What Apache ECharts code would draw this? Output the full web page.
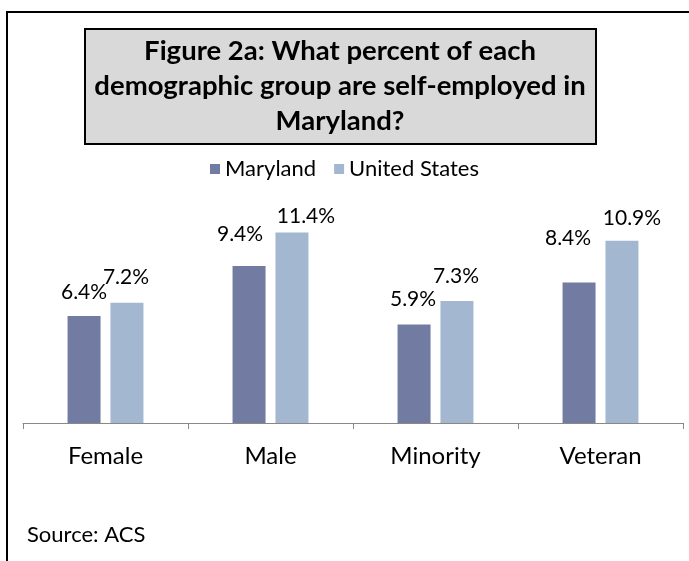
<!DOCTYPE html>
<html>
<head>
<meta charset="utf-8">
<script src="https://cdn.jsdelivr.net/npm/echarts@6/dist/echarts.min.js"></script>
<style>
  html, body { margin: 0; padding: 0; background: #fff; }
  #Mycharts { width: 689px; height: 561px; }
</style>
</head>
<body>
<div id="Mycharts"></div>
<script>
// categories and values
const categories = ['Female', 'Male', 'Minority', 'Veteran']
const maryland = [6.4, 9.4, 5.9, 8.4]
const unitedStates = [7.2, 11.4, 7.3, 10.9]
const seriesNames = ['Maryland', 'United States']
const titleLines = [
  'Figure 2a: What percent of each',
  'demographic group are self-employed in',
  'Maryland?'
]
const sourceText = 'Source: ACS'

// labels in the original were nudged by hand, so keep those shifts here
const mdLabelShift = [[0, -8], [-9, -16], [-1, -10], [-11, -29]]
const usLabelShift = [[-1, -10], [14, -1], [-1, -9], [10, -7]]

const FONT = 'Lato'

function withShift (values, shifts) {
  return values.map((v, i) => ({
    value: v,
    label: { offset: shifts[i] }
  }))
}

let Mycharts = echarts.init(document.getElementById('Mycharts'))
Mycharts.setOption({
  animation: false,
  color: ['#727CA3', '#A3B8D0'],
  textStyle: { fontFamily: FONT },
  legend: {
    data: seriesNames,
    top: 153,
    left: 'center',
    itemWidth: 10,
    itemHeight: 10,
    itemGap: 18,
    icon: 'rect',
    textStyle: { fontSize: 22, color: '#000', fontFamily: FONT }
  },
  grid: {
    left: 23,
    right: 6,
    top: 189,
    bottom: 138
  },
  xAxis: {
    type: 'category',
    data: categories,
    axisLine: { lineStyle: { color: '#888', width: 1 } },
    axisTick: { show: true, length: 6, lineStyle: { color: '#888' } },
    axisLabel: { fontSize: 24, color: '#000', margin: 21, fontFamily: FONT }
  },
  yAxis: {
    type: 'value',
    min: 0,
    max: 14,
    show: false,
    splitLine: { show: false }
  },
  series: [
    {
      name: seriesNames[0],
      type: 'bar',
      barWidth: 33,
      barGap: '30%',
      data: withShift(maryland, mdLabelShift),
      label: {
        show: true,
        position: 'top',
        fontSize: 21,
        color: '#000',
        fontFamily: FONT,
        formatter: p => p.value.toFixed(1) + '%'
      }
    },
    {
      name: seriesNames[1],
      type: 'bar',
      barWidth: 33,
      barGap: '30%',
      data: withShift(unitedStates, usLabelShift),
      label: {
        show: true,
        position: 'top',
        fontSize: 21,
        color: '#000',
        fontFamily: FONT,
        formatter: p => p.value.toFixed(1) + '%'
      }
    }
  ],
  graphic: [
    {
      type: 'rect',
      shape: { x: 7, y: 12, width: 800, height: 800 },
      style: { fill: 'none', stroke: '#000', lineWidth: 2 },
      silent: true
    },
    {
      type: 'rect',
      shape: { x: 85, y: 29, width: 511, height: 115 },
      style: { fill: '#D9D9D9', stroke: '#000', lineWidth: 2 },
      silent: true
    },
    {
      type: 'text',
      x: 340,
      y: 34,
      style: {
        text: titleLines.join('\n'),
        fontFamily: FONT,
        fontSize: 27.5,
        fontWeight: 'bold',
        lineHeight: 35,
        fill: '#000',
        align: 'center',
        verticalAlign: 'top'
      },
      silent: true
    },
    {
      type: 'text',
      x: 27,
      y: 535,
      style: {
        text: sourceText,
        fontFamily: FONT,
        fontSize: 22,
        fill: '#000',
        verticalAlign: 'middle'
      },
      silent: true
    }
  ]
})
</script>
</body>
</html>
